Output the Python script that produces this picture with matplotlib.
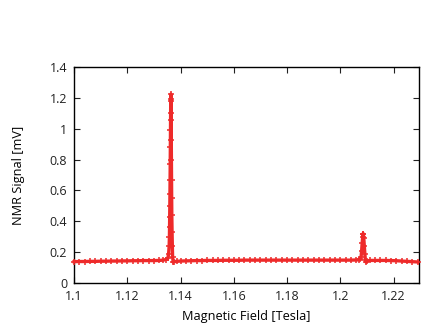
import matplotlib
matplotlib.use("Agg")
import matplotlib.pyplot as plt

# Magnetic field [Tesla]
field = [
    1.1000, 1.1020, 1.1040, 1.1060, 1.1080, 1.1100, 1.1120, 1.1140, 1.1160, 1.1180,
    1.1200, 1.1220, 1.1240, 1.1260, 1.1280, 1.1300, 1.1320, 1.1335, 1.1345, 1.1352,
    1.1355, 1.1357, 1.13580, 1.13585, 1.13590, 1.13595, 1.13600, 1.13605, 1.13610,
    1.13615, 1.13620, 1.13625, 1.13630, 1.13635, 1.13640, 1.13645, 1.13650, 1.13655,
    1.13660, 1.13665, 1.13670, 1.13680, 1.13690, 1.13700, 1.13720, 1.1375, 1.1385,
    1.1400, 1.1420, 1.1440, 1.1460, 1.1480, 1.1500, 1.1520, 1.1540, 1.1560, 1.1580,
    1.1600, 1.1620, 1.1640, 1.1660, 1.1680, 1.1700, 1.1720, 1.1740, 1.1760, 1.1780,
    1.1800, 1.1820, 1.1840, 1.1860, 1.1880, 1.1900, 1.1920, 1.1940, 1.1960, 1.1980,
    1.2000, 1.2020, 1.2040, 1.2060, 1.2070, 1.2075, 1.2078, 1.2080, 1.2082, 1.2084,
    1.2085, 1.2086, 1.2088, 1.2090, 1.2092, 1.2094, 1.2096, 1.2100, 1.2110, 1.2130,
    1.2150, 1.2170, 1.2190, 1.2210, 1.2230, 1.2250, 1.2270, 1.2290,
]

# NMR signal [mV]
signal = [
    0.138, 0.139, 0.139, 0.140, 0.140, 0.141, 0.141, 0.142, 0.142, 0.143,
    0.143, 0.144, 0.144, 0.145, 0.145, 0.145, 0.146, 0.148, 0.152, 0.160,
    0.190, 0.240, 0.300, 0.360, 0.430, 0.500, 0.580, 0.670, 0.770,
    0.880, 0.990, 1.100, 1.190, 1.225, 1.180, 1.060, 0.930, 0.800,
    0.670, 0.550, 0.440, 0.330, 0.240, 0.170, 0.135, 0.138, 0.140,
    0.142, 0.143, 0.144, 0.145, 0.145, 0.146, 0.146, 0.146, 0.147, 0.147,
    0.147, 0.147, 0.148, 0.148, 0.148, 0.148, 0.148, 0.148, 0.148, 0.148,
    0.148, 0.148, 0.148, 0.148, 0.148, 0.148, 0.148, 0.148, 0.148, 0.148,
    0.148, 0.148, 0.148, 0.149, 0.150, 0.155, 0.170, 0.210, 0.260, 0.300,
    0.320, 0.320, 0.290, 0.240, 0.190, 0.150, 0.136, 0.142, 0.146, 0.146,
    0.146, 0.146, 0.145, 0.144, 0.142, 0.140, 0.138, 0.136,
]

xticks = [1.10, 1.12, 1.14, 1.16, 1.18, 1.20, 1.22]
xtick_labels = ["1.1", "1.12", "1.14", "1.16", "1.18", "1.2", "1.22"]
yticks = [0, 0.2, 0.4, 0.6, 0.8, 1.0, 1.2, 1.4]
ytick_labels = ["0", "0.2", "0.4", "0.6", "0.8", "1", "1.2", "1.4"]

plt.rcParams["font.family"] = ["Open Sans", "DejaVu Sans"]

fig = plt.figure(figsize=(4.21, 3.29), dpi=100)
ax = fig.add_axes([0.176, 0.140, 0.819, 0.656])

red = "#ee2a2a"
ax.plot(field, signal, color=red, lw=2.4, marker="+", ms=5, mew=1.1,
        solid_joinstyle="round", clip_on=False, zorder=3)

ax.set_xlim(1.1, 1.2295)
ax.set_ylim(0, 1.4)
ax.set_xticks(xticks)
ax.set_xticklabels(xtick_labels)
ax.set_yticks(yticks)
ax.set_yticklabels(ytick_labels)
ax.tick_params(direction="in", length=4, width=0.8, labelsize=9,
               top=True, right=True, pad=5, colors="#222222")
for s in ax.spines.values():
    s.set_linewidth(1.0)

ax.set_xlabel("Magnetic Field [Tesla]", fontsize=9.2, labelpad=5)
ax.set_ylabel("NMR Signal [mV]", fontsize=9.2, labelpad=18)

fig.savefig("out.png", dpi=100)
